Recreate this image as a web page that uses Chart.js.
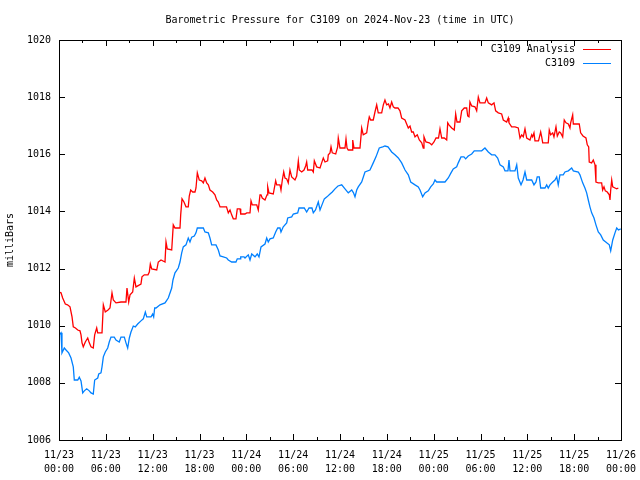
<!DOCTYPE html>
<html>
<head>
<meta charset="utf-8">
<script src="https://cdn.jsdelivr.net/npm/chart.js@4.4.1/dist/chart.umd.min.js"></script>
<style>
  body { margin: 0; background: #fff; }
  canvas { display: block; }
</style>
</head>
<body>
<canvas id="myChart" width="640" height="480"></canvas>
<script>
// hours since 2024-11-23 00:00 UTC, pressure in mb
var analysisHours = [0, 0.26, 0.47, 0.81, 1.09, 1.41, 1.67, 1.83, 2.11, 2.4, 2.69, 2.82, 2.95, 3.11, 3.37, 3.68, 3.88, 4.1, 4.39, 4.57, 4.83, 4.96, 5.51, 5.68, 5.93, 6.28, 6.53, 6.79, 6.96, 7.3, 7.94, 8.58, 8.71, 8.93, 9.1, 9.44, 9.65, 9.86, 10.5, 10.63, 10.93, 11.4, 11.57, 11.7, 11.88, 12.52, 12.72, 13.07, 13.58, 13.71, 13.87, 14.44, 14.64, 14.86, 15.5, 15.59, 15.76, 16.01, 16.27, 16.56, 16.69, 16.87, 17.13, 17.42, 17.55, 17.72, 17.97, 18.28, 18.49, 18.7, 18.92, 19.13, 19.34, 19.69, 19.98, 20.2, 20.41, 20.63, 21.05, 21.46, 21.69, 21.91, 22.12, 22.33, 22.67, 22.84, 23.19, 23.28, 23.83, 24.05, 24.47, 24.6, 24.76, 25.33, 25.53, 25.75, 25.88, 26.04, 26.39, 26.65, 26.74, 26.9, 27.45, 27.76, 27.89, 28.31, 28.44, 28.61, 28.79, 28.95, 29.17, 29.37, 29.59, 29.81, 30.23, 30.45, 30.66, 30.78, 31.09, 31.39, 31.6, 31.73, 31.86, 32.41, 32.58, 32.71, 33.01, 33.44, 33.65, 33.86, 34.08, 34.42, 34.5, 34.72, 34.85, 35.01, 35.45, 35.7, 35.78, 36, 36.64, 36.77, 36.9, 37.06, 37.54, 37.63, 37.79, 38.56, 38.78, 38.98, 39.42, 39.62, 39.75, 39.93, 40.26, 40.48, 40.7, 40.9, 41.34, 41.55, 41.76, 41.98, 42.21, 42.4, 42.62, 42.83, 43.04, 43.43, 43.68, 43.9, 44.33, 44.54, 44.75, 44.97, 45.18, 45.39, 45.61, 45.9, 46.16, 46.47, 46.67, 46.76, 47.01, 47.44, 47.75, 48.04, 48.3, 48.62, 48.81, 49.03, 49.36, 49.67, 49.8, 49.96, 50.31, 50.64, 50.82, 50.99, 51.37, 51.59, 51.92, 52.23, 52.36, 52.52, 52.65, 52.87, 53.29, 53.51, 53.72, 53.93, 54.57, 54.79, 55, 55.43, 55.73, 55.94, 56.28, 56.71, 56.92, 57.35, 57.56, 57.65, 57.99, 58.42, 58.84, 59.06, 59.28, 59.48, 59.7, 59.92, 60.34, 60.56, 60.68, 60.85, 60.98, 61.43, 61.71, 61.84, 61.97, 62.68, 62.81, 62.99, 63.25, 63.41, 63.67, 63.84, 64.09, 64.27, 64.53, 64.73, 64.95, 65.25, 65.46, 65.55, 65.81, 65.89, 66.65, 66.83, 67.13, 67.51, 67.68, 67.86, 67.93, 68.24, 68.45, 68.67, 68.79, 69.09, 69.52, 69.65, 69.82, 69.99, 70.24, 70.5, 70.59, 70.68, 70.81, 70.94, 71.23, 71.45, 71.66];
var analysisValues = [1011.18, 1011.15, 1010.97, 1010.76, 1010.73, 1010.66, 1010.31, 1009.96, 1009.92, 1009.85, 1009.82, 1009.68, 1009.4, 1009.26, 1009.43, 1009.57, 1009.4, 1009.26, 1009.22, 1009.68, 1009.92, 1009.75, 1009.75, 1010.73, 1010.48, 1010.55, 1010.62, 1011.15, 1010.9, 1010.8, 1010.83, 1010.83, 1011.32, 1010.83, 1011.08, 1011.18, 1011.67, 1011.36, 1011.46, 1011.71, 1011.78, 1011.78, 1011.88, 1012.16, 1011.99, 1011.95, 1012.23, 1012.3, 1012.23, 1012.93, 1012.69, 1012.65, 1013.53, 1013.42, 1013.42, 1013.88, 1014.44, 1014.33, 1014.16, 1014.16, 1014.54, 1014.75, 1014.68, 1014.68, 1014.82, 1015.35, 1015.1, 1015.07, 1015.0, 1015.17, 1015.0, 1014.93, 1014.75, 1014.68, 1014.58, 1014.4, 1014.33, 1014.16, 1014.16, 1014.16, 1013.95, 1014.05, 1013.88, 1013.74, 1013.74, 1014.09, 1014.09, 1013.91, 1013.91, 1013.95, 1013.95, 1014.37, 1014.23, 1014.23, 1014.05, 1014.58, 1014.58, 1014.47, 1014.4, 1014.58, 1014.86, 1014.65, 1014.61, 1015.07, 1014.93, 1014.93, 1014.75, 1015.1, 1015.38, 1015.17, 1015.14, 1015.0, 1015.45, 1015.21, 1015.1, 1015.24, 1015.77, 1015.45, 1015.38, 1015.45, 1015.59, 1015.73, 1015.45, 1015.45, 1015.38, 1015.77, 1015.56, 1015.52, 1015.7, 1015.87, 1015.73, 1015.77, 1015.98, 1016.05, 1016.26, 1016.05, 1016.01, 1016.26, 1016.57, 1016.22, 1016.22, 1016.54, 1016.22, 1016.15, 1016.15, 1016.5, 1016.22, 1016.22, 1016.92, 1016.68, 1016.75, 1017.13, 1017.31, 1017.2, 1017.2, 1017.48, 1017.73, 1017.45, 1017.45, 1017.73, 1017.9, 1017.73, 1017.76, 1017.62, 1017.83, 1017.66, 1017.62, 1017.62, 1017.52, 1017.27, 1017.2, 1017.06, 1016.92, 1016.99, 1016.78, 1016.78, 1016.61, 1016.68, 1016.5, 1016.4, 1016.22, 1016.61, 1016.43, 1016.4, 1016.33, 1016.43, 1016.57, 1016.57, 1016.89, 1016.57, 1016.57, 1016.5, 1017.1, 1017.03, 1016.92, 1016.85, 1017.41, 1017.13, 1017.13, 1017.52, 1017.62, 1017.62, 1017.34, 1017.31, 1017.83, 1017.69, 1017.66, 1017.52, 1018.0, 1017.8, 1017.8, 1017.97, 1017.8, 1017.73, 1017.8, 1017.52, 1017.45, 1017.41, 1017.2, 1017.13, 1017.27, 1017.1, 1016.96, 1016.96, 1016.92, 1016.57, 1016.68, 1016.61, 1016.89, 1016.57, 1016.5, 1016.68, 1016.61, 1016.75, 1016.47, 1016.47, 1016.78, 1016.61, 1016.4, 1016.4, 1016.85, 1016.68, 1016.75, 1016.61, 1016.96, 1016.64, 1016.78, 1016.75, 1016.61, 1017.2, 1017.1, 1017.06, 1016.92, 1017.1, 1017.38, 1017.06, 1017.06, 1016.75, 1016.64, 1016.57, 1016.33, 1016.26, 1015.73, 1015.7, 1015.8, 1015.63, 1015.03, 1015.0, 1015.0, 1014.75, 1014.86, 1014.72, 1014.68, 1014.58, 1014.4, 1014.75, 1015.1, 1014.86, 1014.82, 1014.79, 1014.82];

var stationHours = [0, 0.26, 0.38, 0.68, 0.9, 1.24, 1.54, 1.83, 1.96, 2.4, 2.6, 2.82, 3.04, 3.24, 3.55, 3.88, 4.1, 4.39, 4.57, 4.96, 5.09, 5.38, 5.51, 5.68, 5.93, 6.24, 6.44, 6.66, 7.08, 7.3, 7.72, 7.94, 8.37, 8.58, 8.8, 9.01, 9.22, 9.52, 9.77, 10.08, 10.5, 10.8, 11.06, 11.24, 11.79, 12.0, 12.13, 12.26, 12.43, 12.94, 13.58, 14.0, 14.44, 14.6, 14.86, 15.28, 15.5, 15.72, 15.92, 16.27, 16.56, 16.78, 17.0, 17.33, 17.55, 17.72, 18.49, 18.7, 19.13, 19.34, 19.56, 20.11, 20.41, 20.63, 21.05, 21.48, 21.69, 22.12, 22.67, 22.84, 23.19, 23.28, 23.7, 23.83, 24.25, 24.47, 24.69, 25.11, 25.4, 25.62, 25.88, 26.39, 26.61, 26.81, 27.03, 27.45, 27.76, 28.02, 28.31, 28.44, 28.73, 29.17, 29.3, 29.81, 30.02, 30.58, 30.75, 31.42, 31.73, 32.03, 32.41, 32.58, 32.86, 33.22, 33.44, 33.69, 33.99, 34.33, 34.72, 35.01, 35.36, 35.74, 36.22, 36.64, 37.06, 37.5, 37.73, 37.92, 38.14, 38.34, 38.78, 39.2, 39.84, 40.26, 40.61, 41.03, 41.47, 41.76, 42.15, 42.62, 43.04, 43.47, 43.9, 44.33, 44.75, 45.06, 45.61, 46.03, 46.25, 46.59, 46.89, 47.31, 47.62, 47.95, 48.17, 48.39, 48.81, 49.45, 49.87, 50.22, 50.51, 50.95, 51.15, 51.5, 51.88, 52.1, 52.43, 52.87, 53.2, 54.15, 54.57, 55.0, 55.43, 55.85, 56.2, 56.5, 56.92, 57.14, 57.52, 57.65, 57.78, 58.42, 58.64, 58.84, 59.19, 59.45, 59.7, 59.92, 60.56, 60.85, 61.11, 61.27, 61.53, 61.71, 62.26, 62.48, 62.68, 62.9, 63.25, 63.54, 63.76, 63.96, 64.18, 64.6, 64.82, 65.25, 65.68, 65.89, 66.53, 66.74, 67.09, 67.38, 67.6, 67.81, 68.02, 68.24, 68.54, 68.79, 69.09, 69.4, 69.73, 70.17, 70.5, 70.68, 70.94, 71.23, 71.45, 71.68, 71.96];
var stationValues = [1009.68, 1009.75, 1009.05, 1009.22, 1009.15, 1009.05, 1008.87, 1008.56, 1008.1, 1008.1, 1008.2, 1008.07, 1007.65, 1007.72, 1007.79, 1007.72, 1007.65, 1007.61, 1008.1, 1008.17, 1008.31, 1008.35, 1008.56, 1008.91, 1009.08, 1009.22, 1009.43, 1009.6, 1009.6, 1009.5, 1009.43, 1009.6, 1009.6, 1009.4, 1009.22, 1009.57, 1009.78, 1009.99, 1009.96, 1010.06, 1010.17, 1010.24, 1010.48, 1010.31, 1010.31, 1010.41, 1010.31, 1010.62, 1010.62, 1010.73, 1010.8, 1010.97, 1011.32, 1011.6, 1011.85, 1012.02, 1012.23, 1012.55, 1012.76, 1012.83, 1013.07, 1012.93, 1013.1, 1013.14, 1013.25, 1013.42, 1013.42, 1013.28, 1013.25, 1013.07, 1012.83, 1012.83, 1012.65, 1012.44, 1012.41, 1012.37, 1012.3, 1012.23, 1012.23, 1012.34, 1012.34, 1012.41, 1012.41, 1012.37, 1012.48, 1012.3, 1012.51, 1012.41, 1012.51, 1012.41, 1012.76, 1012.86, 1013.07, 1012.93, 1013.04, 1013.07, 1013.28, 1013.42, 1013.42, 1013.28, 1013.46, 1013.6, 1013.77, 1013.81, 1013.91, 1013.95, 1014.12, 1014.12, 1013.98, 1014.12, 1014.12, 1013.95, 1014.05, 1014.33, 1014.05, 1014.23, 1014.44, 1014.51, 1014.61, 1014.68, 1014.79, 1014.89, 1014.93, 1014.79, 1014.65, 1014.75, 1014.65, 1014.51, 1014.75, 1014.86, 1015.03, 1015.38, 1015.45, 1015.7, 1015.91, 1016.22, 1016.26, 1016.29, 1016.26, 1016.08, 1015.98, 1015.87, 1015.7, 1015.45, 1015.28, 1015.03, 1014.93, 1014.86, 1014.75, 1014.51, 1014.65, 1014.72, 1014.86, 1014.96, 1015.1, 1015.03, 1015.03, 1015.03, 1015.17, 1015.35, 1015.49, 1015.56, 1015.7, 1015.91, 1015.91, 1015.84, 1015.94, 1016.01, 1016.12, 1016.12, 1016.22, 1016.08, 1015.98, 1015.98, 1015.87, 1015.63, 1015.56, 1015.42, 1015.42, 1015.8, 1015.42, 1015.42, 1015.63, 1015.17, 1014.93, 1015.1, 1015.38, 1015.1, 1015.1, 1014.93, 1015.03, 1015.21, 1015.21, 1014.82, 1014.82, 1014.93, 1014.82, 1014.93, 1015.03, 1015.1, 1015.21, 1014.93, 1015.28, 1015.28, 1015.38, 1015.42, 1015.52, 1015.42, 1015.38, 1015.28, 1015.0, 1014.82, 1014.65, 1014.4, 1014.16, 1013.95, 1013.77, 1013.53, 1013.28, 1013.18, 1013.0, 1012.9, 1012.83, 1012.62, 1013.0, 1013.25, 1013.42, 1013.35, 1013.39];

var xTickLabels = [
    ['11/23', '00:00'], ['11/23', '06:00'], ['11/23', '12:00'], ['11/23', '18:00'],
    ['11/24', '00:00'], ['11/24', '06:00'], ['11/24', '12:00'], ['11/24', '18:00'],
    ['11/25', '00:00'], ['11/25', '06:00'], ['11/25', '12:00'], ['11/25', '18:00'],
    ['11/26', '00:00']
];

var chartTitle = 'Barometric Pressure for C3109 on 2024-Nov-23 (time in UTC)';

var FONT = "'DejaVu Sans Mono', 'Liberation Mono', monospace";

function toPoints(xs, ys) {
    var pts = [];
    for (var i = 0; i < xs.length; i++) pts.push({ x: xs[i], y: ys[i] });
    return pts;
}

// gnuplot style frame: title over the plot, border, inward ticks, legend inside top right
var framePlugin = {
    id: 'frame',
    afterDatasetsDraw: function(chart) {
	var ctx = chart.ctx;
	var a = chart.chartArea;
	var xs = chart.scales.x, ys = chart.scales.y;
	ctx.save();
	ctx.strokeStyle = '#000';
	ctx.lineWidth = 1;
	ctx.beginPath();
	for (var v = xs.min; v <= xs.max; v += 3) {
	    var px = Math.round(xs.getPixelForValue(v)) + 0.5;
	    var len = (v % 6 === 0) ? 6 : 3;
	    ctx.moveTo(px, a.bottom); ctx.lineTo(px, a.bottom - len);
	    ctx.moveTo(px, a.top); ctx.lineTo(px, a.top + len);
	}
	for (var w = ys.min; w <= ys.max; w += 2) {
	    var py = Math.round(ys.getPixelForValue(w)) + 0.5;
	    ctx.moveTo(a.left, py); ctx.lineTo(a.left + 6, py);
	    ctx.moveTo(a.right, py); ctx.lineTo(a.right - 6, py);
	}
	ctx.stroke();
	ctx.strokeRect(Math.round(a.left) + 0.5, Math.round(a.top) + 0.5,
		       Math.round(a.right - a.left), Math.round(a.bottom - a.top));

	ctx.font = '10px ' + FONT;
	ctx.fillStyle = '#000';
	ctx.textAlign = 'center';
	ctx.textBaseline = 'middle';
	ctx.fillText(chartTitle, (a.left + a.right) / 2, 20);

	ctx.textAlign = 'right';
	chart.data.datasets.forEach(function(ds, i) {
	    var y = a.top + 9 + i * 14;
	    ctx.fillStyle = '#000';
	    ctx.fillText(ds.label, a.right - 46, y);
	    ctx.strokeStyle = ds.borderColor;
	    ctx.beginPath();
	    ctx.moveTo(a.right - 38, y + 0.5);
	    ctx.lineTo(a.right - 10, y + 0.5);
	    ctx.stroke();
	});
	ctx.restore();
    }
};

var ctx = document.getElementById('myChart').getContext('2d');
var myChart = new Chart(ctx, {
    type: 'line',
    data: {
	datasets: [{
	    label: 'C3109 Analysis',
	    data: toPoints(analysisHours, analysisValues),
	    borderColor: '#ff0000',
	    borderWidth: 1.3,
	    pointRadius: 0,
	    tension: 0
	}, {
	    label: 'C3109',
	    data: toPoints(stationHours, stationValues),
	    borderColor: '#0080ff',
	    borderWidth: 1.3,
	    pointRadius: 0,
	    tension: 0
	}]
    },
    options: {
	responsive: false,
	animation: false,
	devicePixelRatio: 1,
	layout: { padding: { left: 0, right: 19, top: 40, bottom: 0 } },
	plugins: {
	    legend: { display: false },
	    tooltip: { enabled: false },
	    title: { display: false }
	},
	scales: {
	    x: {
		type: 'linear',
		min: 0,
		max: 72,
		grid: { display: false, drawTicks: false },
		border: { display: false },
		afterFit: function(scale) {
		    scale.height = 40;
		    scale.paddingLeft = 0;
		    scale.paddingRight = 0;
		},
		ticks: {
		    stepSize: 6,
		    padding: 9,
		    maxRotation: 0,
		    autoSkip: false,
		    color: '#000',
		    font: { family: FONT, size: 10, lineHeight: 1.35 },
		    callback: function(value) { return xTickLabels[value / 6]; }
		}
	    },
	    y: {
		min: 1006,
		max: 1020,
		grid: { display: false, drawTicks: false },
		border: { display: false },
		afterFit: function(scale) {
		    scale.width = 59;
		    scale.paddingTop = 0;
		    scale.paddingBottom = 0;
		},
		title: {
		    display: true,
		    text: 'milliBars',
		    color: '#000',
		    font: { family: FONT, size: 10 },
		    padding: { top: 4, bottom: 0 }
		},
		ticks: {
		    stepSize: 2,
		    padding: 8,
		    color: '#000',
		    font: { family: FONT, size: 10 },
		    callback: function(value) { return String(value); }
		}
	    }
	}
    },
    plugins: [framePlugin]
});
</script>
</body>
</html>
